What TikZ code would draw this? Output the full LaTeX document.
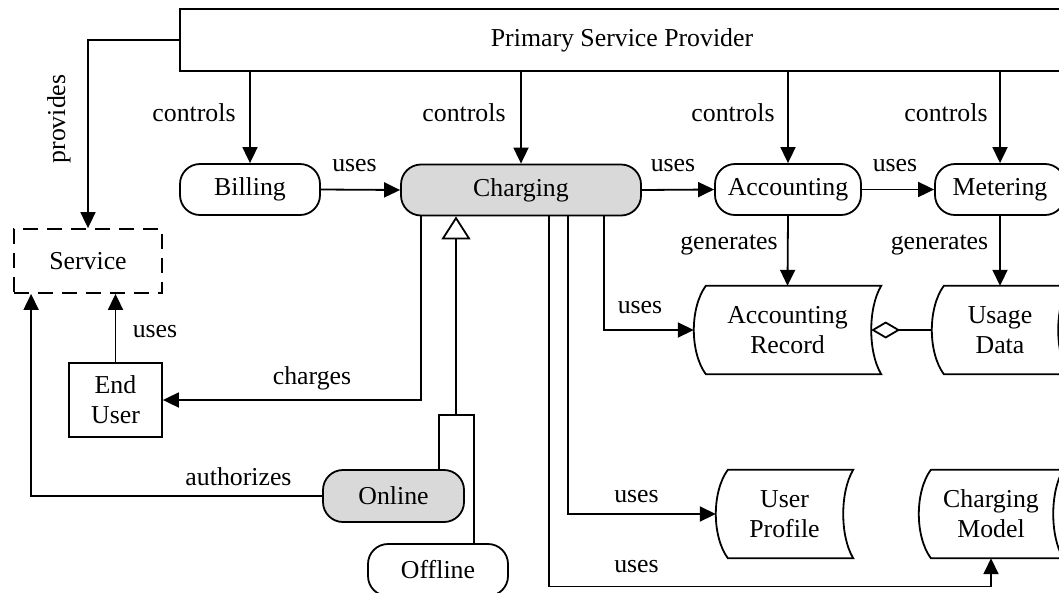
\documentclass[tikz,border=0pt]{standalone}
\usepackage{fontspec}
\setmainfont{Liberation Serif}
\usetikzlibrary{arrows.meta,calc}

\tikzset{
  txt/.style={font=\fontsize{25.8pt}{30pt}\selectfont},
  lbl/.style={txt, inner sep=0pt},
  plain/.style={line width=1.8pt},
  conn/.style={plain, -{Triangle[length=16pt,width=15pt]}},
  proc/.style={txt, draw, line width=1.8pt, rounded corners=20pt,
    minimum height=51pt, inner sep=0pt},
  active/.style={proc, fill=black!15},
  actor/.style={txt, draw, line width=1.8pt, inner sep=0pt, align=center},
  store/.style={txt, inner sep=0pt, minimum height=88pt, align=center},
}

% stored-data symbol: convex left side, concave right side
\newcommand\storenode[5]{% name, x, y, width, text
  \node[store, minimum width=#4pt] (#1) at (#2,#3) {#5};
  \draw[plain]
    ([xshift=12pt]#1.north west)
      .. controls ([xshift=-4pt,yshift=-22pt]#1.north west)
             and ([xshift=-4pt,yshift=22pt]#1.south west)
      .. ([xshift=12pt]#1.south west)
    -- (#1.south east)
      .. controls ([xshift=-13.3pt,yshift=22pt]#1.south east)
             and ([xshift=-13.3pt,yshift=-22pt]#1.north east)
      .. (#1.north east)
    -- cycle;
  \coordinate (#1-in) at ([xshift=-10pt]#1.east);
}

\begin{document}
\begin{tikzpicture}[x=1pt,y=-1pt]
\useasboundingbox (0,0) rectangle (1059,592);

% actors and processes
\node[actor, minimum width=884pt, minimum height=62pt] (psp) at (622,40) {Primary Service Provider};
\node[actor, dash pattern=on 15pt off 9pt, minimum width=148pt, minimum height=64pt] (service) at (88,261) {Service};
\node[actor, minimum width=93pt, minimum height=74pt] (user) at (115.5,400) {End\\User};

\node[proc, minimum width=140pt] (billing) at (250,189.5) {Billing};
\node[active, minimum width=240pt] (charging) at (521,190) {Charging};
\node[proc, minimum width=146pt] (acc) at (788,189.5) {Accounting};
\node[proc, minimum width=130pt] (met) at (1000,189.5) {Metering};
\node[active, minimum width=141pt, minimum height=52pt] (online) at (393.5,496) {Online};
\node[proc, minimum width=140pt, minimum height=52pt] (offline) at (438,570) {Offline};

% data stores
\storenode{ar}{787.5}{330}{187}{Accounting\\Record}
\storenode{ud}{1000}{330}{136}{Usage\\Data}
\storenode{up}{784.5}{514}{137}{User\\Profile}
\storenode{cm}{991}{514}{144}{Charging\\Model}

% provider relations
\draw[conn] (psp.west) -| (service.north);
\draw[conn] (billing.north |- psp.south) -- (billing.north);
\draw[conn] (charging.north |- psp.south) -- (charging.north);
\draw[conn] (acc.north |- psp.south) -- (acc.north);
\draw[conn] (met.north |- psp.south) -- (met.north);

% usage chain
\draw[conn] (billing.east) -- (charging.west);
\draw[conn] (charging.east) -- (acc.west);
\draw[conn] (acc.east) -- (met.west);
\draw[conn] (acc.south) -- (ar.north);
\draw[conn] (met.south) -- (ud.north);
\draw[plain, -{Diamond[open,length=29pt,width=17pt,line width=1.8pt]}] (ud.west) -- (ar-in);

% charging outputs
\draw[conn] ([xshift=-38pt]charging.south east) |- (ar.west);
\draw[conn] ([xshift=-74pt]charging.south east) |- (up.west);
\draw[conn] ([xshift=-93pt]charging.south east) -- ++(0,370) -| (cm.south);
\draw[conn] ([xshift=21pt]charging.south west) |- (user.east);

% end user and authorization
\draw[conn] (user.north) -- (user.north |- service.south);
\draw[conn] (online.west) -| ([xshift=18pt]service.south west);

% specialisation of charging
\coordinate (gen) at (456,415);
\draw[plain] ([xshift=-26pt]online.north east) |- (gen) -| ([xshift=36pt]offline.north);
\draw[plain, -{Triangle[open,length=23pt,width=29pt,line width=1.8pt]}] (gen) -- (gen |- charging.south);

% relation labels
\node[lbl, rotate=90] (lprov) at (59,119) {provides};
\node[lbl] (lc1) at (194,113) {controls};
\node[lbl] (lc2) at (464,113) {controls};
\node[lbl] (lc3) at (733,113) {controls};
\node[lbl] (lc4) at (946,113) {controls};
\node[lbl] (lu1) at (354.5,166) {uses};
\node[lbl] (lu2) at (673,166) {uses};
\node[lbl] (lu3) at (895,166) {uses};
\node[lbl] (lg1) at (729,245) {generates};
\node[lbl] (lg2) at (939.5,245) {generates};
\node[lbl] (lu4) at (640,308) {uses};
\node[lbl] (lu5) at (155,332) {uses};
\node[lbl] (lch) at (312,378) {charges};
\node[lbl] (lauth) at (238.5,477) {authorizes};
\node[lbl] (lu6) at (636.5,497) {uses};
\node[lbl] (lu7) at (636.5,567) {uses};
\end{tikzpicture}
\end{document}
